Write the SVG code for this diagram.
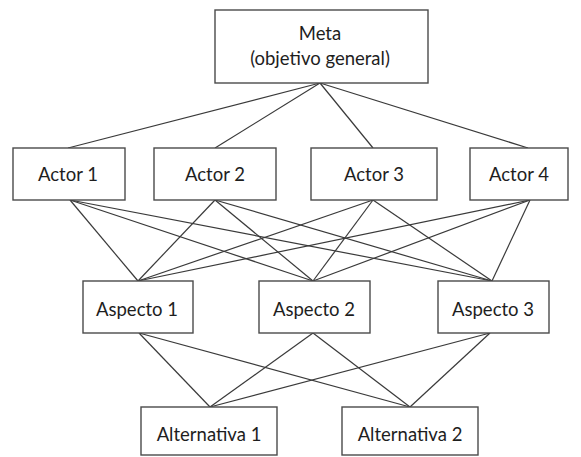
<svg xmlns="http://www.w3.org/2000/svg" width="581" height="457" viewBox="0 0 581 457">
  <style>
    .box { fill: #ffffff; stroke: #4a4a4a; stroke-width: 1.4; }
    .lbl { font-family: Lato, "Open Sans", "Liberation Sans", sans-serif; font-size: 18.5px; fill: #1e1e1e; text-anchor: middle; }
    .edge { stroke: #3a3a3a; stroke-width: 1.2; fill: none; }
  </style>
  <rect width="581" height="457" fill="#ffffff"/>

  <!-- connectors -->
  <g id="connectors">
    <!-- goal to actors -->
    <line class="edge" x1="320" y1="83" x2="68" y2="148"/>
    <line class="edge" x1="320" y1="83" x2="215" y2="148"/>
    <line class="edge" x1="320" y1="83" x2="373" y2="148"/>
    <line class="edge" x1="320" y1="83" x2="528" y2="148"/>
    <!-- actors to aspects -->
    <line class="edge" x1="70" y1="200" x2="138" y2="281"/>
    <line class="edge" x1="70" y1="200" x2="313" y2="281"/>
    <line class="edge" x1="70" y1="200" x2="492" y2="281"/>
    <line class="edge" x1="215" y1="200" x2="138" y2="281"/>
    <line class="edge" x1="215" y1="200" x2="313" y2="281"/>
    <line class="edge" x1="215" y1="200" x2="492" y2="281"/>
    <line class="edge" x1="373" y1="200" x2="138" y2="281"/>
    <line class="edge" x1="373" y1="200" x2="313" y2="281"/>
    <line class="edge" x1="373" y1="200" x2="492" y2="281"/>
    <line class="edge" x1="530" y1="200" x2="138" y2="281"/>
    <line class="edge" x1="530" y1="200" x2="313" y2="281"/>
    <line class="edge" x1="530" y1="200" x2="492" y2="281"/>
    <!-- aspects to alternatives -->
    <line class="edge" x1="139" y1="333" x2="210" y2="407"/>
    <line class="edge" x1="139" y1="333" x2="410" y2="407"/>
    <line class="edge" x1="313" y1="333" x2="210" y2="407"/>
    <line class="edge" x1="313" y1="333" x2="410" y2="407"/>
    <line class="edge" x1="490" y1="333" x2="210" y2="407"/>
    <line class="edge" x1="490" y1="333" x2="410" y2="407"/>
  </g>

  <!-- goal -->
  <g id="meta">
    <rect class="box" x="215" y="10" width="213" height="73"/>
    <text class="lbl" x="320" y="40">Meta</text>
    <text class="lbl" x="320" y="65">(objetivo general)</text>
  </g>

  <!-- actors -->
  <g id="actor1">
    <rect class="box" x="13" y="148" width="112" height="52"/>
    <text class="lbl" x="68" y="181">Actor 1</text>
  </g>
  <g id="actor2">
    <rect class="box" x="154" y="148" width="122" height="52"/>
    <text class="lbl" x="215" y="181">Actor 2</text>
  </g>
  <g id="actor3">
    <rect class="box" x="311" y="148" width="126" height="52"/>
    <text class="lbl" x="374" y="181">Actor 3</text>
  </g>
  <g id="actor4">
    <rect class="box" x="470" y="148" width="98" height="52"/>
    <text class="lbl" x="519" y="181">Actor 4</text>
  </g>

  <!-- aspects -->
  <g id="aspecto1">
    <rect class="box" x="83" y="281" width="110" height="52"/>
    <text class="lbl" x="137" y="316">Aspecto 1</text>
  </g>
  <g id="aspecto2">
    <rect class="box" x="259" y="281" width="111" height="52"/>
    <text class="lbl" x="314" y="316">Aspecto 2</text>
  </g>
  <g id="aspecto3">
    <rect class="box" x="438" y="281" width="111" height="52"/>
    <text class="lbl" x="493" y="316">Aspecto 3</text>
  </g>

  <!-- alternatives -->
  <g id="alternativa1">
    <rect class="box" x="141" y="407" width="136" height="48"/>
    <text class="lbl" x="209" y="441">Alternativa 1</text>
  </g>
  <g id="alternativa2">
    <rect class="box" x="342" y="407" width="136" height="48"/>
    <text class="lbl" x="410" y="441">Alternativa 2</text>
  </g>
</svg>
